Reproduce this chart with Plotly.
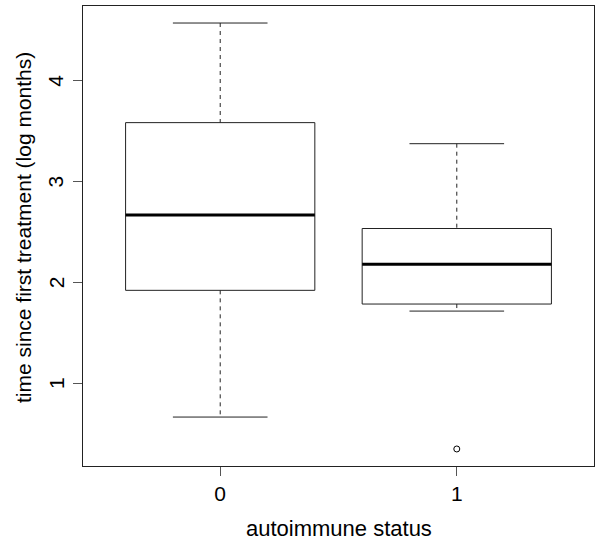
import plotly.graph_objects as go

# data
groups = [0, 1]
tick_labels = ["0", "1"]
y_ticks = [1, 2, 3, 4]
lower_whisker = [0.662, 1.714]
q1 = [1.920, 1.784]
median = [2.667, 2.179]
q3 = [3.585, 2.534]
upper_whisker = [4.574, 3.376]
outlier_x = [1]
outlier_y = [0.345]
x_title = "autoimmune status"
y_title = "time since first treatment (log months)"

box_half = 0.4
cap_half = 0.2

fig = go.Figure()
line_col = "#222222"
for i, g in enumerate(groups):
    # dashed whiskers
    fig.add_trace(go.Scatter(x=[g, g], y=[upper_whisker[i], q3[i]], mode="lines",
                             line=dict(color=line_col, width=1, dash="4px,4px"), hoverinfo="skip"))
    fig.add_trace(go.Scatter(x=[g, g], y=[q1[i], lower_whisker[i]], mode="lines",
                             line=dict(color=line_col, width=1, dash="4px,4px"), hoverinfo="skip"))
    # caps
    for w in (upper_whisker[i], lower_whisker[i]):
        fig.add_trace(go.Scatter(x=[g - cap_half, g + cap_half], y=[w, w], mode="lines",
                                 line=dict(color=line_col, width=1), hoverinfo="skip"))
    # box
    fig.add_trace(go.Scatter(
        x=[g - box_half, g + box_half, g + box_half, g - box_half, g - box_half],
        y=[q1[i], q1[i], q3[i], q3[i], q1[i]], mode="lines",
        line=dict(color=line_col, width=1), hoverinfo="skip"))
    # median
    fig.add_trace(go.Scatter(x=[g - box_half, g + box_half], y=[median[i], median[i]], mode="lines",
                             line=dict(color="black", width=3), hoverinfo="skip"))

fig.add_trace(go.Scatter(x=outlier_x, y=outlier_y, mode="markers",
                         marker=dict(symbol="circle-open", size=6, color="black", line=dict(width=1)),
                         hoverinfo="skip"))

fam = "Liberation Sans, Arial, sans-serif"
font = dict(family=fam, size=21, color="black")

annotations = [
    dict(text=x_title, xref="paper", yref="paper", x=0.5, y=0, xanchor="center",
         yanchor="middle", yshift=-62, showarrow=False, font=dict(family=fam, size=22, color="black")),
    dict(text=y_title, xref="paper", yref="paper", x=0, y=0.5, xanchor="center",
         yanchor="middle", xshift=-60, yshift=8, textangle=-90, showarrow=False, font=font),
]
for t in y_ticks:
    annotations.append(dict(text=str(t), xref="paper", yref="y", x=0, y=t, xanchor="center",
                            yanchor="middle", xshift=-27, textangle=-90, showarrow=False, font=font))

fig.update_layout(
    width=597, height=544,
    margin=dict(l=83, r=3, t=6, b=78),
    paper_bgcolor="white", plot_bgcolor="white",
    showlegend=False,
    font=font,
    xaxis=dict(range=[-0.58, 1.58], tickvals=groups, ticktext=tick_labels,
               showgrid=False, zeroline=False, showline=True, mirror=True,
               linecolor="#222222", linewidth=1, ticks="outside", ticklen=9,
               tickcolor="#555555", tickfont=font),
    yaxis=dict(range=[0.176, 4.743], tickvals=y_ticks, showticklabels=False,
               showgrid=False, zeroline=False, showline=True, mirror=True,
               linecolor="#222222", linewidth=1, ticks="outside", ticklen=9,
               tickcolor="#555555"),
    annotations=annotations,
)

fig.write_html("out.html")
